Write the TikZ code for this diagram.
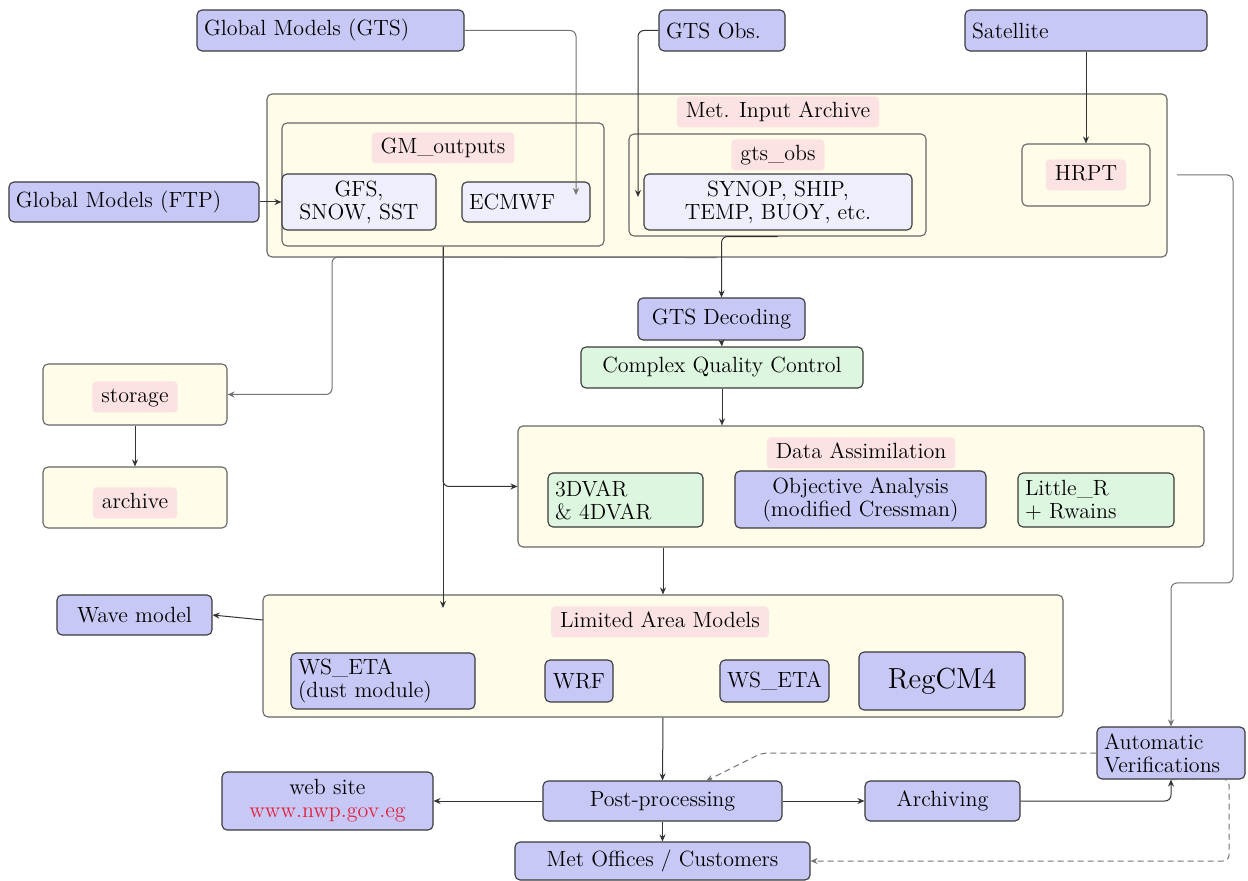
\documentclass[tikz,border=0pt]{standalone}
\usetikzlibrary{arrows.meta}
\definecolor{bluF}{HTML}{C8C8F6}
\definecolor{lavF}{HTML}{EEEEFC}
\definecolor{yelF}{HTML}{FFFDEA}
\definecolor{grnF}{HTML}{DDF6DF}
\definecolor{pnkF}{HTML}{FCE2E2}
\definecolor{urlC}{HTML}{E2203A}
\definecolor{edgeC}{HTML}{3A3A3A}
\newcommand{\mybox}[7]{%
  \pgfmathsetmacro\bxc{(#3+#5)/2}%
  \pgfmathsetmacro\byc{(#4+#6)/2}%
  \pgfmathsetmacro\bxw{(#5-#3)/2}%
  \pgfmathsetmacro\bxh{(#6-#4)/2}%
  \node[#1, minimum width=\bxw pt, minimum height=\bxh pt] (#2) at (\bxc,\byc) {#7};}
\begin{document}
\begin{tikzpicture}[x=0.5pt,y=-0.5pt,
  font=\fontsize{11}{11.5}\selectfont,
  base/.style={draw=edgeC, line width=0.55pt, rounded corners=2.5pt, inner xsep=3.5pt, inner ysep=1pt},
  bluebox/.style={base, fill=bluF},
  lavbox/.style={base, fill=lavF},
  yelbox/.style={base, fill=yelF, draw=black!60},
  grnbox/.style={base, fill=grnF},
  lbl/.style={fill=pnkF, rounded corners=2pt, inner xsep=4.5pt, inner ysep=2.5pt, text height=8pt, text depth=2.5pt},
  conn/.style={draw=black!80, line width=0.5pt, rounded corners=3pt, -{Stealth[length=3.5pt,width=3pt]}},
  gconn/.style={conn, draw=black!55},
  dconn/.style={conn, draw=black!55, dash pattern=on 3pt off 2pt}]
\fill[white] (0,0) rectangle (1248,881);
\useasboundingbox (0,0) rectangle (1248,881);

% top sources
\mybox{bluebox, text width=126.5pt, align=left}{gts}{197}{10}{464}{51}{Global Models (GTS)}
\mybox{bluebox, text width=56pt, align=left}{gtsobs}{659}{10}{785}{51}{GTS Obs.}
\mybox{bluebox, text width=114pt, align=left}{sat}{965}{10}{1207}{51}{Satellite}

% Met input archive
\mybox{yelbox}{metin}{267}{94}{1167}{257}{}
\node[lbl] (metinl) at (778,112) {Met. Input Archive};
\mybox{yelbox}{gmout}{282}{123}{604}{246}{}
\node[lbl] (gmoutl) at (443,148) {GM\_outputs};
\mybox{lavbox, align=center}{gfs}{282}{174}{436}{230}{GFS,\\SNOW, SST}
\mybox{lavbox, text width=57pt, align=left}{ecmwf}{462}{182}{590}{222}{ECMWF}
\mybox{yelbox}{gtsg}{629}{134}{926}{236}{}
\node[lbl] (gtsgl) at (778,155) {gts\_obs};
\mybox{lavbox, align=center}{synop}{644}{174}{912}{230}{SYNOP, SHIP,\\TEMP, BUOY, etc.}
\mybox{yelbox}{hrpt}{1022}{144}{1150}{206}{}
\node[lbl] (hrptl) at (hrpt.center) {HRPT};
\mybox{bluebox, text width=118pt, align=left}{ftp}{9}{182}{259}{222}{Global Models (FTP)}

% middle
\mybox{bluebox}{gtsdec}{638}{298}{805}{340}{GTS Decoding}
\mybox{grnbox}{cqc}{581}{347}{863}{388}{Complex Quality Control}
\mybox{yelbox}{storage}{43}{364}{227}{425}{}
\node[lbl] (storagel) at (135,397) {storage};
\mybox{yelbox}{archive}{43}{467}{227}{528}{}
\node[lbl] (archivel) at (135,503) {archive};
\mybox{yelbox}{da}{518}{426}{1204}{547}{}
\node[lbl] (dal) at (861,453) {Data Assimilation};
\mybox{grnbox, text width=70.5pt, align=left}{var}{548}{473}{703}{527}{3DVAR\\\& 4DVAR}
\mybox{bluebox, align=center}{oa}{735}{471}{986}{528}{Objective Analysis\\(modified Cressman)}
\mybox{grnbox, text width=71pt, align=left}{littler}{1018}{473}{1174}{527}{Little\_R\\+ Rwains}

% lower
\mybox{bluebox}{wave}{57}{595}{212}{635}{Wave model}
\mybox{yelbox}{lam}{263}{595}{1063}{717}{}
\node[lbl] (laml) at (660,622) {Limited Area Models};
\mybox{bluebox, text width=85pt, align=left}{wsd}{291}{653}{475}{709}{WS\_ETA\\(dust module)}
\mybox{bluebox}{wrf}{545}{660}{613}{702}{WRF}
\mybox{bluebox}{wse}{720}{660}{829}{702}{WS\_ETA}
\mybox{bluebox, font=\fontsize{14.5}{16}\selectfont}{reg}{859}{652}{1025}{710}{RegCM4}
\mybox{bluebox, align=center}{web}{222}{772}{433}{830}{web site\\\textcolor{urlC}{www.nwp.gov.eg}}
\mybox{bluebox}{post}{543}{781}{782}{821}{Post-processing}
\mybox{bluebox}{arch}{865}{781}{1020}{821}{Archiving}
\mybox{bluebox, text width=67pt, align=left}{av}{1097}{727}{1245}{779}{Automatic\\Verifications}
\mybox{bluebox}{met}{515}{842}{810}{880}{Met Offices / Customers}

% connectors
\coordinate (ecin) at (576,195);
\draw[gconn] (gts.east) -| (ecin);
\coordinate (syin) at (638,197);
\draw[conn] (gtsobs.west) -| (syin);
\draw[conn] (sat.south) -- (hrpt.north);
\draw[conn] (ftp.east) -- (gfs.west);
\coordinate (lamin) at (443,608);
\draw[conn] (gmout.south) -- (lamin);
\draw[conn] (gmout.south) |- (da.west);
\coordinate (stj) at (332,257);
\draw[gconn] (metin.south) -- (stj) |- (storage.east);
\draw[conn] (gtsg.south) -| (gtsdec.north);
\draw[conn] (gtsdec.south) -- (cqc.north);
\draw[conn] (cqc.south) -- (cqc.south |- da.north);
\draw[conn] (storage.south) -- (archive.north);
\draw[conn] (lam.north |- da.south) -- (lam.north);
\coordinate (lamw) at (263,620);
\draw[conn] (lamw) -- (wave.east);
\draw[conn] (lam.south) -- (post.north);
\draw[conn] (post.west) -- (web.east);
\draw[conn] (post.east) -- (arch.west);
\draw[conn] (post.south) -- (met.north);
\draw[conn] (arch.east) -| (av.south);
\coordinate (h1) at (1177,175);
\coordinate (h2) at (1233,175);
\coordinate (h3) at (1233,583);
\coordinate (h4) at (1171,583);
\draw[gconn] (h1) -- (h2) -- (h3) -- (h4) -- (av.north);
\coordinate (d1) at (762,753);
\coordinate (ppin) at (706,781);
\draw[dconn] (av.west) -- (d1) -- (ppin);
\coordinate (d2) at (1229,779);
\draw[dconn] (av.south) -- (d2) |- (met.east);
\end{tikzpicture}
\end{document}
